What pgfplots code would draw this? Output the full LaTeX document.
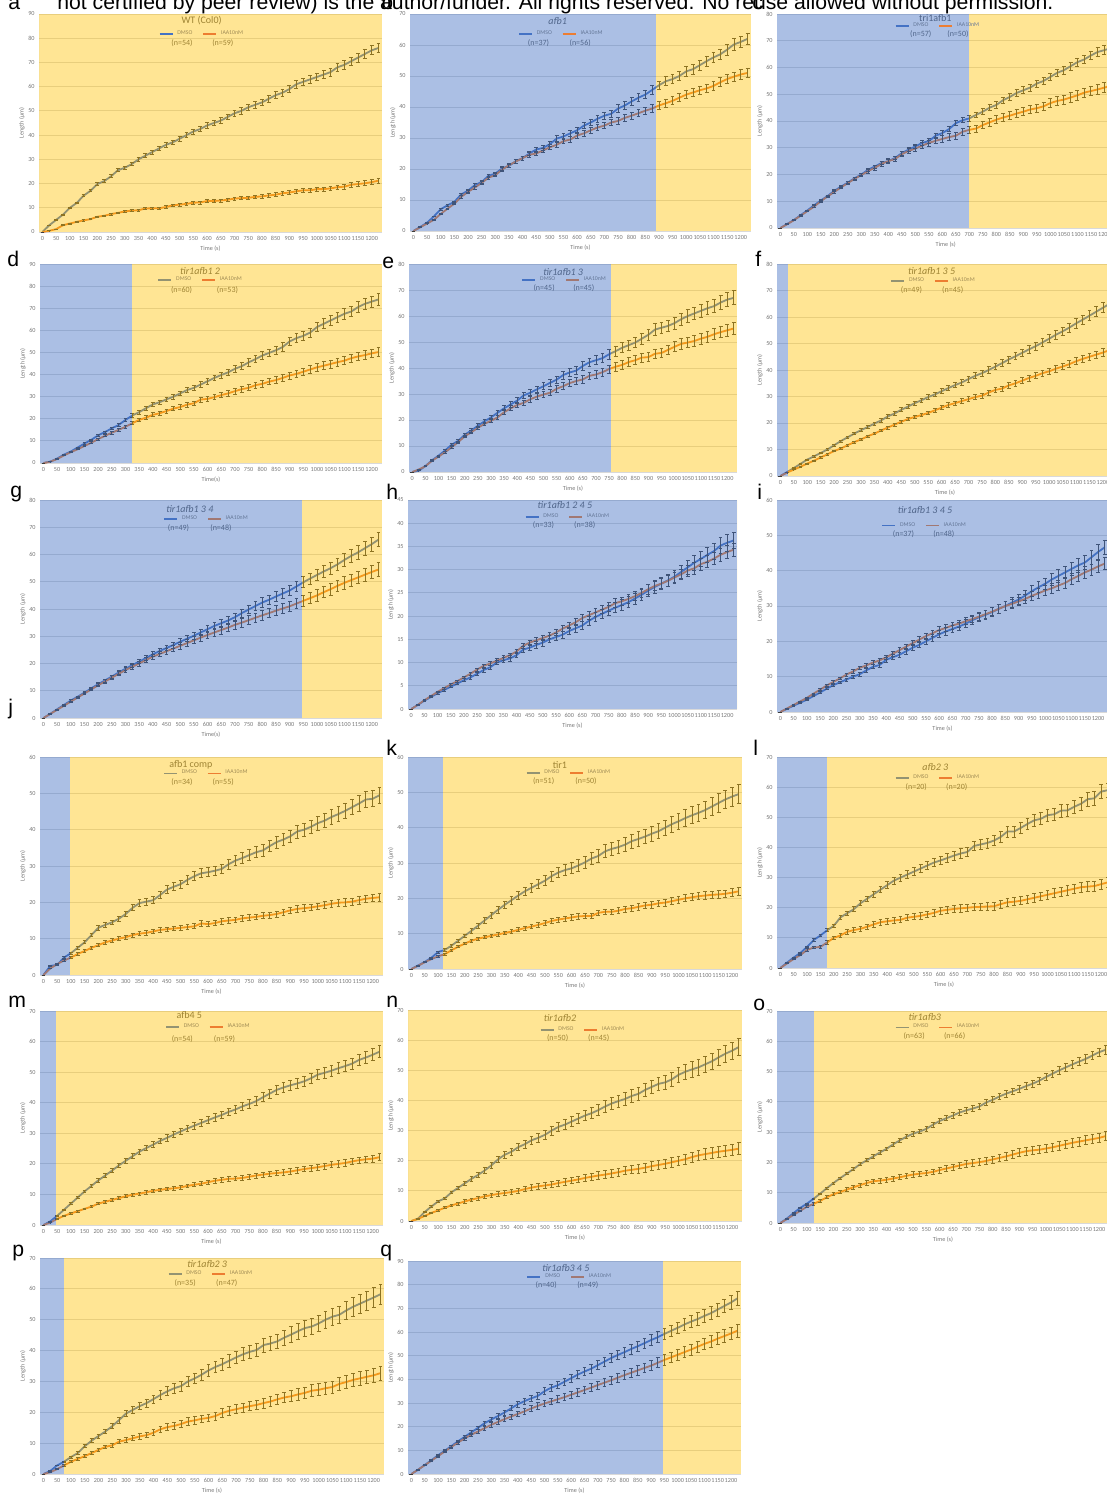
\documentclass[border=0pt]{standalone}
\usepackage{fontspec}
\setmainfont{Carlito}
\newfontfamily\arialf{Liberation Sans}
\usepackage{pgfplots}
\usepackage{pgfplotstable}
\pgfplotsset{compat=1.18}
\definecolor{cD}{RGB}{68,114,196}
\definecolor{cI}{RGB}{237,125,49}
\definecolor{cE}{RGB}{60,60,60}
\definecolor{ovB}{RGB}{68,114,196}
\definecolor{ovY}{RGB}{255,192,0}
\definecolor{gridc}{RGB}{217,217,217}
\definecolor{tickc}{RGB}{120,120,120}
\definecolor{txtc}{RGB}{89,89,89}
\definecolor{lgGray}{RGB}{147,147,114}
\definecolor{lgBrown}{RGB}{161,120,115}
\definecolor{ltY}{RGB}{160,140,85}
\definecolor{ltB}{RGB}{100,118,150}
\tikzset{ttl/.style={font=\fontsize{5}{6}\selectfont, text=txtc, inner sep=0pt},
 nl/.style={font=\fontsize{4}{5}\selectfont, text=txtc, inner sep=0pt},
 lett/.style={anchor=base west, font=\arialf\fontsize{10.6}{12}\selectfont, inner sep=0pt}}
\pgfplotsset{
 error bars/draw error bar/.code 2 args={\draw #1 -- #2 ++(-0.95pt,0pt) -- ++(1.9pt,0pt);},
 dmL/.style={color=cD, line width=0.9pt, line join=round, forget plot, mark=none},
 iaL/.style={color=cI, line width=0.9pt, line join=round, forget plot, mark=none},
 ebL/.style={color=cE, line width=0.4pt, forget plot, draw=none, mark=none, error bars/y dir=both},
 panel/.style={
  scale only axis, anchor=south west, clip=true,
  xmin=-12.5, xmax=1237.5, ymin=0,
  xtick={0,50,...,1200}, ytick distance=10,
  axis line style={draw=none}, major tick length=0pt,
  ymajorgrids, grid style={color=gridc, line width=0.5pt},
  scaled ticks=false,
  /pgf/number format/1000 sep={},
  /pgf/number format/assume math mode=true,
  tick label style={font=\fontsize{3.1}{3.5}\selectfont, text=tickc},
  xticklabel style={inner sep=0.5pt, yshift=-1.5pt},
  yticklabel style={inner sep=0.5pt, xshift=-1.5pt},
  every axis x label/.style={at={([yshift=-8.5pt]axis description cs:0.5,0)}, anchor=center, font=\fontsize{3.1}{3.5}\selectfont, text=tickc},
  every axis y label/.style={at={([xshift=-8.5pt]axis description cs:0,0.5)}, rotate=90, anchor=center, font=\fontsize{3.1}{3.5}\selectfont, text=tickc},
  xlabel={Time (s)}, ylabel={Length (µm)},
  legend columns=2,
  legend style={draw=none, fill=none, anchor=center, font=\fontsize{2.9}{3}\selectfont, inner sep=0pt,
     /tikz/every even column/.append style={column sep=3pt}},
  legend image code/.code={\draw[##1, line width=0.8pt] (0pt,0pt) -- (6.5pt,0pt);},
 }
}
\newcommand\leg[2]{\addlegendimage{#1}\addlegendentry{DMSO}\addlegendimage{#2}\addlegendentry{IAA10nM}}
\newcommand\plots[3]{\addplot[dmL] table[x=t,y=d]{#1};
 \addplot[iaL] table[x=t,y=i]{#1};
 \addplot[ebL, error bars/y fixed relative=#2] table[x=t,y=d]{#1};
 \addplot[ebL, error bars/y fixed relative=#3] table[x=t,y=i]{#1};}
\newcommand\annot[8]{\node[ttl] at (rel axis cs:#2,#3) {#1};
 \node[nl] at (rel axis cs:#4,#6) {(n=#7)};
 \node[nl] at (rel axis cs:#5,#6) {(n=#8)};}
\newcommand\regions[1]{\fill[ovB, opacity=0.45] (rel axis cs:0,0) rectangle ({axis cs:#1,0}|-{rel axis cs:0,1});
 \fill[ovY, opacity=0.42] ({axis cs:#1,0}|-{rel axis cs:0,0}) rectangle (rel axis cs:1,1);}

\pgfplotstableread{
t d i
0 0 0
25 2.8 0.5
50 5 1.2
75 7.2 2.8
100 10 3.5
125 12 4.2
150 15 4.8
175 17 5.3
200 19.8 6.3
225 21 6.7
250 23 7.4
275 25.5 7.9
300 26.5 8.5
325 28 8.8
350 30 9
375 31.5 9.7
400 33 9.8
425 34.5 9.8
450 36 10.3
475 37 11
500 38.5 11.3
525 40 11.6
550 41.5 12.1
575 42.5 12.2
600 44 12.8
625 45 12.8
650 46 13
675 47.5 13.3
700 49 13.8
725 50 14
750 51.5 14.1
775 52.5 14.5
800 53.5 14.7
825 55 15.1
850 56.5 15.4
875 57.5 16
900 59 16.3
925 61 16.8
950 62 17.2
975 63 17.2
1000 64 17.7
1025 65 17.7
1050 66 18
1075 68 18.5
1100 69 18.7
1125 70.5 19.5
1150 72 19.8
1175 73.5 20.1
1200 75 20.6
1225 76 21.2
}\TabA
\pgfplotstableread{
t d i
0 0 0
25 1.3 1.2
50 2.7 2.4
75 4.7 3.6
100 7 5.5
125 8.3 7.2
150 9.4 8.8
175 11.8 11
200 13 12.6
225 14.8 14
250 15.8 15.5
275 17.8 17.2
300 18.5 18
325 20.2 19.8
350 21 21.2
375 22.5 22.4
400 23.5 23.5
425 25 24.6
450 26.3 25
475 26.8 26
500 28 27
525 29.8 27.8
550 30.5 29
575 31.5 29.5
600 32.5 30.8
625 34 31.5
650 35 32.5
675 36.2 33.4
700 37.2 34
725 37.8 35
750 39.5 35.5
775 40.5 36.5
800 41.8 37.2
825 43 38
850 44 38.8
875 45.5 39.5
900 47 40.5
925 48.3 41.2
950 49 42
975 50 43
1000 51.5 44
1025 52.2 44.7
1050 53.5 45.4
1075 54.8 46
1100 56 46.8
1125 57 48
1150 58.5 49
1175 60.2 49.8
1200 61 50.5
1225 62 51
}\TabB
\pgfplotstableread{
t d i
0 0 0
25 1.5 1.4
50 3 2.9
75 4.8 4.6
100 6.6 6.3
125 8.5 8
150 10.3 10
175 12 11.8
200 13.9 13.5
225 15.5 15.2
250 17 16.8
275 18.6 18.4
300 20 19.8
325 21.8 21.3
350 23 22.5
375 24.3 24
400 25 25
425 26.2 25.8
450 28 27.6
475 29.3 28.8
500 30.5 29.7
525 31.8 30.8
550 32.5 31.8
575 34.5 32.6
600 35.5 33.3
625 37 34
650 39.2 34.5
675 40.3 36
700 41 36.7
725 42.3 37.2
750 43.5 38.5
775 45 39.5
800 46 40.5
825 47.8 41.3
850 49 42
875 50.5 42.8
900 51.5 43.5
925 52.5 44.3
950 54 44.8
975 55 45.5
1000 56.5 46.7
1025 58 47.5
1050 59 48
1075 60.5 48.8
1100 62 49.6
1125 63 50.6
1150 64.5 51.2
1175 65.8 51.8
1200 66.5 52.5
1225 67.3 53.2
}\TabC
\pgfplotstableread{
t d i
0 0 0
25 0.6 0.6
50 2 1.8
75 3.8 3.4
100 5.2 4.9
125 7 6.2
150 8.8 7.7
175 10.5 9.2
200 12.5 10.8
225 14 12.3
250 15.7 13.7
275 17.2 15
300 19.5 16.4
325 21.5 18
350 23 19.5
375 24.8 20.5
400 26.5 21.8
425 27.5 22.5
450 28.8 23.5
475 30 24.6
500 31.5 25.3
525 33 26.4
550 34 27
575 35.5 28.7
600 37 29
625 38.5 29.8
650 39.8 30.7
675 41 31.5
700 42.6 32.5
725 43.8 33.4
750 45.5 34
775 47 35.2
800 48.6 35.8
825 49.8 36.8
850 51 37.5
875 52.5 38.5
900 55 39.6
925 56.5 40.3
950 57.5 41.3
975 59 42.3
1000 61.5 43.3
1025 63 44
1050 64.5 44.8
1075 66 45.6
1100 67.5 46.3
1125 68.5 47.4
1150 70.5 48.2
1175 72 48.8
1200 73 49.6
1225 74 50.2
}\TabD
\pgfplotstableread{
t d i
0 0 0
25 0.5 1
50 2.3 2.2
75 4.5 4.3
100 6.3 5.9
125 8.3 7.6
150 10.5 9.5
175 12 11.5
200 14.3 13.7
225 16 15.3
250 17.8 17
275 19.5 18.5
300 21 19.7
325 22.8 21
350 24.5 23
375 26 24.5
400 27.5 25.8
425 29.5 26.6
450 30.5 28
475 31.8 29
500 33 29.8
525 34.3 30.5
550 35.5 32
575 37.3 33
600 38.3 34.2
625 39 35
650 40.8 35.6
675 42.2 37
700 43 37.5
725 43.8 38.4
750 45.3 39.6
775 46.5 40.5
800 47.8 41.2
825 48.8 42.3
850 49.8 43
875 51.3 44
900 52.8 44.2
925 54.8 45.5
950 55.5 45.8
975 56.2 47
1000 57.3 48.2
1025 58.8 49.3
1050 60 49.8
1075 61 50.4
1100 62 51.3
1125 63 52
1150 63.8 53
1175 65.2 53.8
1200 66.3 54.5
1225 67 55.2
}\TabE
\pgfplotstableread{
t d i
0 0 0
25 1.5 1.3
50 3 2.4
75 4.6 3.5
100 6.2 4.7
125 7.4 5.8
150 8.7 7
175 10 8.2
200 11.6 9.4
225 13.2 10.4
250 14.6 11.6
275 16 12.8
300 17.3 13.8
325 18.5 15
350 19.8 16
375 21 17.2
400 22.5 18.3
425 23.6 19.4
450 25 20.5
475 26.2 21.5
500 27.5 22.3
525 28.6 23
550 29.8 23.8
575 30.8 24.8
600 32 25.8
625 33.2 26.8
650 34.3 27.5
675 35.3 28.3
700 36.6 29
725 37.8 29.8
750 38.8 30.3
775 40 31.5
800 41.3 32.5
825 42.6 33
850 44 34.2
875 45.2 35
900 46.5 36
925 47.8 37
950 49 37.8
975 50.4 38.8
1000 51.8 39.5
1025 53.3 40.5
1050 54.6 41.3
1075 56 42.2
1100 57.6 43.3
1125 59 44.2
1150 60.5 45
1175 62 45.8
1200 63.5 46.6
1225 65 47.5
}\TabF
\pgfplotstableread{
t d i
0 0 0
25 1.5 1.5
50 3.2 3
75 4.8 4.5
100 6.4 6
125 7.8 7.5
150 9.3 9
175 10.9 10.5
200 12.4 12
225 13.8 13.4
250 15.2 14.8
275 16.7 16.2
300 18.1 17.6
325 19.4 18.8
350 20.7 20
375 22 21.3
400 23.4 22.5
425 24.6 23.5
450 25.7 24.5
475 26.8 25.5
500 28 26.5
525 29.1 27.5
550 30.2 28.5
575 31.4 29.5
600 32.6 30.5
625 33.8 31.4
650 34.8 32.3
675 35.8 33.2
700 37 34.2
725 38.5 35
750 39.8 35.9
775 41.1 36.8
800 42.4 37.7
825 43.4 38.5
850 44.6 39.4
875 45.7 40.2
900 46.8 41
925 48.3 42
950 49.8 43
975 51.2 44
1000 52.5 45
1025 53.8 46.2
1050 55 47.3
1075 56.4 48.5
1100 58 49.6
1125 59.5 50.6
1150 60.8 51.6
1175 62.3 52.6
1200 63.8 53.6
1225 65.5 54.5
}\TabG
\pgfplotstableread{
t d i
0 0 0
25 0.9 0.9
50 1.8 1.9
75 2.6 2.8
100 3.4 3.7
125 4.1 4.5
150 4.8 5.3
175 5.5 6
200 6.2 6.8
225 6.8 7.6
250 7.6 8.5
275 8.4 9.3
300 9 9.8
325 10 10.4
350 10.5 11
375 10.9 11.6
400 11.6 12.4
425 12.8 13.6
450 13.2 14.3
475 13.8 14.8
500 14.3 15.3
525 15 15.8
550 15.5 16.5
575 16 17.3
600 16.8 18
625 17.4 18.7
650 18 19.6
675 19 20.2
700 19.8 20.8
725 20.5 21.4
750 21.2 22
775 21.8 22.8
800 22.4 23.2
825 23 23.7
850 23.8 24.3
875 24.6 25
900 25.5 25.8
925 26.3 26.5
950 27 27
975 27.7 27.6
1000 28.5 28.3
1025 29.5 29
1050 30.5 29.8
1075 31.5 30.3
1100 32.3 31.2
1125 33.2 31.7
1150 34 32.4
1175 35.2 33.2
1200 35.8 33.8
1225 36.3 34.3
}\TabH
\pgfplotstableread{
t d i
0 0 0
25 0.9 1
50 1.8 2
75 2.6 3
100 3.5 4
125 4.5 5.2
150 5.5 6.3
175 6.6 7.5
200 7.6 8.5
225 8.4 9.5
250 9.2 10.6
275 10 11.5
300 10.7 12.5
325 11.8 13.2
350 12.8 14
375 13.3 14.6
400 14.8 15.5
425 15.5 16.5
450 16.2 17.5
475 17.2 18.5
500 18.2 19.5
525 19 20.5
550 20 21.5
575 21 22.3
600 22 23.2
625 22.8 23.8
650 23.5 24.5
675 24.2 25
700 25 25.7
725 26 26.3
750 26.8 27
775 27.5 27.7
800 28.3 28.4
825 29.2 29.2
850 30 30
875 31 30.6
900 31.8 31.3
925 33 32
950 34.2 32.9
975 35.3 33.6
1000 36.3 34.4
1025 37.5 35
1050 38.5 35.8
1075 39.5 36.5
1100 40.5 37.6
1125 41.5 38.5
1150 42.3 39.5
1175 43.8 40.3
1200 45.3 41.2
1225 46.6 42
}\TabI
\pgfplotstableread{
t d i
0 0 0
25 2.5 1.8
50 2.8 3
75 4.8 4
100 6 4.8
125 7.5 5.8
150 9 6.6
175 11 7.5
200 13 8.2
225 13.8 9
250 14.5 9.5
275 15.5 10
300 16.8 10.4
325 18.5 11
350 19.8 11.4
375 20.2 11.6
400 20.6 12
425 22 12.4
450 23.5 12.6
475 24.3 12.8
500 25 13
525 26.2 13.2
550 27.2 13.4
575 28 14.2
600 28.3 14
625 28.7 14.3
650 29.2 14.8
675 30.5 15
700 31.5 15.2
725 32.2 15.6
750 33 15.8
775 33.8 16
800 34.3 16.3
825 35.5 16.5
850 36.6 16.8
875 37.3 17.3
900 38.2 17.8
925 39.5 18.2
950 40 18.4
975 40.8 18.6
1000 41.8 18.9
1025 42.5 19.2
1050 43.5 19.6
1075 44.3 19.9
1100 45.2 20
1125 46.2 20.2
1150 47.2 20.6
1175 48.3 21
1200 48.5 21.2
1225 49.5 21.4
}\TabJ
\pgfplotstableread{
t d i
0 0 0
25 1 0.9
50 2 1.9
75 3.2 2.8
100 4.8 3.6
125 5.4 4.2
150 6.6 5.3
175 8 6.3
200 9.4 7.2
225 10.8 8
250 12.3 8.6
275 13.8 9
300 15.3 9.4
325 16.8 9.8
350 18.2 10.2
375 19.5 10.6
400 20.8 11.1
425 22 11.6
450 23 12
475 24 12.5
500 25 13
525 26.3 13.6
550 27.3 14
575 28 14.3
600 28.5 14.6
625 29.3 14.9
650 30.2 15
675 31.3 15
700 32 15.9
725 33.3 16.2
750 34 16.2
775 34.5 16.5
800 35.2 17
825 36.2 17.2
850 36.8 17.6
875 37.5 18
900 38.3 18.2
925 39 18.6
950 40 18.8
975 41 19.2
1000 41.8 19.6
1025 42.7 20
1050 43.5 20.3
1075 44.2 20.6
1100 45 20.8
1125 46 21
1150 47 21.1
1175 48 21.3
1200 48.8 21.6
1225 49.5 22
}\TabK
\pgfplotstableread{
t d i
0 0 0
25 1.8 1.5
50 3.5 3
75 5 4.3
100 7 6
125 9.3 6.8
150 10.8 7
175 12.5 8.5
200 14 10
225 16.8 10.8
250 18.2 12
275 19.5 12.6
300 21.5 13
325 23 13.7
350 24.5 14.5
375 26 15.2
400 27.5 15.5
425 29 15.8
450 30 16
475 31 16.7
500 32 17
525 33 17.3
550 34 17.8
575 35 18.3
600 35.7 19
625 36.5 19.3
650 37.3 19.6
675 38 19.8
700 38.5 20
725 40.5 20.2
750 41 20.3
775 41.5 20.4
800 42.3 20.5
825 43.5 21.2
850 45.3 21.8
875 45.3 22
900 46.5 22.3
925 47.8 22.8
950 49 23.3
975 49.5 23.8
1000 50.7 24.3
1025 51 24.8
1050 52.2 25.3
1075 52.3 25.8
1100 53.5 26.3
1125 54.5 26.8
1150 56 27
1175 56.3 27.2
1200 58.5 27.8
1225 59 28.4
}\TabL
\pgfplotstableread{
t d i
0 0 0
25 1.2 0.8
50 3 2
75 5 3
100 7 3.8
125 9 4.5
150 11 5.3
175 12.8 6
200 14.6 7
225 16.2 7.6
250 17.8 8.2
275 19.5 8.8
300 21 9.4
325 22.5 9.9
350 24 10.3
375 25.2 10.7
400 26.3 11.2
425 27.5 11.5
450 28.5 11.8
475 29.6 12
500 30.6 12.3
525 31.6 12.8
550 32.5 13.2
575 33.4 13.5
600 34.3 14
625 35.2 14.5
650 36 14.8
675 37 15.1
700 37.8 15.2
725 38.8 15.4
750 39.6 15.8
775 40.5 16.2
800 41.8 16.5
825 43 16.8
850 44.2 17
875 45 17.2
900 45.7 17.5
925 46.3 17.9
950 47 18.3
975 48 18.6
1000 49.2 18.9
1025 49.8 19.3
1050 50.5 19.7
1075 51.3 20
1100 52 20.3
1125 52.8 20.8
1150 54 21.2
1175 54.8 21.5
1200 55.7 21.7
1225 56.7 22.2
}\TabM
\pgfplotstableread{
t d i
0 0 0
25 0.8 0.7
50 3 1.7
75 4.8 2.7
100 6.5 3.5
125 7.5 4.4
150 9.5 5.2
175 11 5.8
200 12.5 6.5
225 14 7.1
250 15.3 7.6
275 16.8 8.2
300 18.5 8.6
325 20.5 9
350 22 9.3
375 23 9.6
400 24.5 10
425 25.5 10.6
450 26.8 11.1
475 27.6 11.5
500 28.6 11.8
525 30 12.1
550 31.2 12.6
575 32 13
600 33 13.4
625 34 13.8
650 35 14.3
675 35.8 14.7
700 36.8 15.1
725 38 15.4
750 39 15.8
775 39.8 16.2
800 40.5 16.7
825 41.5 17
850 42.2 17.3
875 43.5 17.7
900 44.5 18.2
925 45.5 18.6
950 46 19
975 47 19.5
1000 48.5 20
1025 49.5 20.5
1050 50.3 21.2
1075 51 21.8
1100 52 22.2
1125 53 22.6
1150 54.3 23
1175 55.5 23.3
1200 56.5 23.6
1225 57.7 24
}\TabN
\pgfplotstableread{
t d i
0 0 0
25 1.5 1.3
50 3.3 2.7
75 5 4
100 6.4 5.4
125 8 6.3
150 9.7 7.3
175 11.5 8.5
200 13.2 9.5
225 14.8 10.2
250 16.3 11
275 17.8 11.8
300 19.4 12.5
325 20.7 13.2
350 22 13.8
375 23.3 14
400 24.5 14.3
425 26 14.7
450 27.3 15.1
475 28.5 15.6
500 29.5 16
525 30.2 16.3
550 31.1 16.5
575 32.5 16.9
600 33.7 17.5
625 34.6 18
650 35.5 18.5
675 36.5 19
700 37.2 19.5
725 37.8 19.8
750 38.5 20.1
775 39.8 20.5
800 40.7 21
825 41.8 21.5
850 42.7 22
875 43.5 22.6
900 44.3 23.2
925 45.2 23.7
950 46 24
975 47 24.2
1000 48.2 24.6
1025 49.3 25
1050 50.4 25.5
1075 51.4 26
1100 52.4 26.5
1125 53.3 26.9
1150 54.2 27.3
1175 55.3 27.7
1200 56.4 28.1
1225 57.2 28.7
}\TabO
\pgfplotstableread{
t d i
0 0 0
25 1 0.6
50 2.8 1.6
75 4 2.8
100 5.5 4
125 6.8 4.9
150 9 5.8
175 10.8 6.8
200 12.3 7.8
225 13.8 8.8
250 15.5 9.3
275 17.5 10.5
300 19.6 11
325 20.8 11.6
350 22 12.2
375 23 12.6
400 24.3 13.4
425 25.6 14.5
450 26.8 15.2
475 27.8 15.6
500 28.5 16.2
525 30 17
550 31 17.4
575 32.2 17.9
600 33.6 18.2
625 34.7 18.8
650 35.6 19.8
675 36.7 20.5
700 37.8 21
725 38.8 21.5
750 39.6 22
775 40.2 22.4
800 41.8 23
825 42.3 23.5
850 43 24.2
875 44.2 24.8
900 45.2 25.2
925 46.3 25.8
950 47.3 26.3
975 47.8 27
1000 48.8 27.3
1025 50 27.8
1050 51 28.2
1075 51.6 29.2
1100 53 29.8
1125 54.2 30.5
1150 55.2 31
1175 56.2 31.5
1200 57.2 32
1225 58.3 32.7
}\TabP
\pgfplotstableread{
t d i
0 0 0
25 1.8 1.8
50 3.8 3.7
75 5.8 5.6
100 7.9 7.5
125 9.8 9.5
150 11.8 11.4
175 13.8 13.3
200 15.7 15
225 17.6 16.6
250 19.5 18
275 21.5 19.4
300 23 20.8
325 24.5 22
350 26 23.2
375 27.8 24.3
400 29.5 25.4
425 30.8 26.5
450 32 27.7
475 33 28.8
500 35 29.8
525 36.5 30.7
550 37.5 31.6
575 39 32.5
600 40.5 33.5
625 42 34.5
650 43.3 35.5
675 44.5 36.5
700 46 37.6
725 47.5 38.6
750 49 39.6
775 50.3 40.7
800 51.5 41.8
825 52.8 42.8
850 54 43.8
875 55.3 44.8
900 56.6 45.8
925 57.8 47
950 59.2 48.2
975 60.5 49.3
1000 61.8 50.4
1025 63.2 51.5
1050 64.4 52.6
1075 65.5 53.8
1100 66.8 55
1125 68 56
1150 69.5 57.2
1175 71 58.3
1200 72.5 59.4
1225 74.3 60.6
}\TabQ

\begin{document}
\begin{tikzpicture}
% ---- row 1
\begin{axis}[panel, at={(19.5pt,-116pt)}, width=171.5pt, height=109pt, ymax=90, legend style={at={(0.478,0.907)}, text=ltY}]
\leg{color=cD}{color=cI}
\plots{\TabA}{0.025}{0.05}
\annot{WT (Col0)}{0.474}{0.969}{0.417}{0.536}{0.867}{54}{59}
\regions{-12.5}
\end{axis}
\begin{axis}[panel, at={(205pt,-115.5pt)}, width=170.5pt, height=108.5pt, ymax=70, legend style={at={(0.447,0.907)}, text=ltB}]
\leg{color=cD}{color=cI}
\plots{\TabB}{0.03}{0.03}
\annot{\itshape afb1}{0.433}{0.969}{0.377}{0.499}{0.867}{37}{56}
\regions{890}
\end{axis}
\begin{axis}[panel, at={(388.5pt,-114pt)}, width=168.75pt, height=107pt, ymax=80, legend style={at={(0.48,0.944)}, text=ltB}]
\leg{color=cD}{color=cI}
\plots{\TabC}{0.025}{0.035}
\annot{tri1afb1}{0.469}{0.98}{0.426}{0.536}{0.906}{57}{50}
\regions{700}
\end{axis}
% ---- row 2
\begin{axis}[panel, at={(20pt,-231.5pt)}, width=171pt, height=99.5pt, ymax=90, xlabel={Time(s)}, legend style={at={(0.473,0.92)}, text=ltY}]
\leg{color=lgGray}{color=cI}
\plots{\TabD}{0.035}{0.04}
\annot{\itshape tir1afb1 2}{0.468}{0.965}{0.414}{0.548}{0.869}{60}{53}
\regions{322}
\end{axis}
\begin{axis}[panel, at={(204.5pt,-236pt)}, width=164pt, height=104pt, ymax=80, legend style={at={(0.478,0.923)}, text=ltB}]
\leg{color=cD}{color=lgBrown}
\plots{\TabE}{0.04}{0.04}
\annot{\itshape tir1afb1 3}{0.47}{0.963}{0.412}{0.533}{0.885}{45}{45}
\regions{757}
\end{axis}
\begin{axis}[panel, at={(388.5pt,-238pt)}, width=168pt, height=106pt, ymax=80, legend style={at={(0.469,0.92)}, text=ltY}]
\leg{color=lgGray}{color=cI}
\plots{\TabF}{0.03}{0.03}
\annot{\itshape tir1afb1 3 5}{0.46}{0.967}{0.40}{0.523}{0.877}{49}{45}
\regions{28}
\end{axis}
% ---- row 3
\begin{axis}[panel, at={(20pt,-359pt)}, width=171pt, height=109pt, ymax=80, xlabel={Time(s)}, legend style={at={(0.49,0.913)}, text=ltB}]
\leg{color=cD}{color=lgBrown}
\plots{\TabG}{0.04}{0.045}
\annot{\itshape tir1afb1 3 4}{0.438}{0.957}{0.405}{0.529}{0.872}{49}{48}
\regions{945}
\end{axis}
\begin{axis}[panel, at={(204pt,-354.5pt)}, width=164.5pt, height=104.5pt, ymax=45, ytick distance=5, legend style={at={(0.489,0.92)}, text=ltB}]
\leg{color=cD}{color=lgBrown}
\plots{\TabH}{0.05}{0.04}
\annot{\itshape tir1afb1 2 4 5}{0.477}{0.976}{0.412}{0.537}{0.88}{33}{38}
\regions{1237.5}
\end{axis}
\begin{axis}[panel, at={(388.5pt,-356pt)}, width=165.5pt, height=106pt, ymax=60, legend style={at={(0.449,0.879)}, text=ltB}]
\leg{color=cD}{color=lgBrown}
\plots{\TabI}{0.045}{0.04}
\annot{\itshape tir1afb1 3 4 5}{0.447}{0.953}{0.382}{0.504}{0.838}{37}{48}
\regions{1237.5}
\end{axis}
% ---- row 4
\begin{axis}[panel, at={(20pt,-487.5pt)}, width=171.5pt, height=109pt, ymax=60, legend style={at={(0.488,0.925)}, text=ltY}]
\leg{color=lgGray}{color=cI}
\plots{\TabJ}{0.045}{0.05}
\annot{afb1 comp}{0.44}{0.966}{0.414}{0.534}{0.885}{34}{55}
\regions{98}
\end{axis}
\begin{axis}[panel, at={(204pt,-484.5pt)}, width=167pt, height=106pt, ymax=60, legend style={at={(0.485,0.925)}, text=ltY}]
\leg{color=lgGray}{color=cI}
\plots{\TabK}{0.055}{0.05}
\annot{tir1}{0.455}{0.96}{0.406}{0.533}{0.884}{51}{50}
\regions{120}
\end{axis}
\begin{axis}[panel, at={(388.5pt,-484pt)}, width=167pt, height=105.5pt, ymax=70, legend style={at={(0.485,0.9)}, text=ltY}]
\leg{color=lgGray}{color=cI}
\plots{\TabL}{0.04}{0.06}
\annot{\itshape afb2 3}{0.474}{0.954}{0.417}{0.538}{0.859}{20}{20}
\regions{175}
\end{axis}
% ---- row 5
\begin{axis}[panel, at={(20pt,-612.5pt)}, width=171.5pt, height=107pt, ymax=70, legend style={at={(0.494,0.925)}, text=ltY}]
\leg{color=lgGray}{color=cI}
\plots{\TabM}{0.035}{0.05}
\annot{afb4 5}{0.435}{0.98}{0.415}{0.538}{0.867}{54}{59}
\regions{45}
\end{axis}
\begin{axis}[panel, at={(204pt,-610.5pt)}, width=167pt, height=105.5pt, ymax=70, legend style={at={(0.527,0.905)}, text=ltY}]
\leg{color=lgGray}{color=cI}
\plots{\TabN}{0.05}{0.08}
\annot{\itshape tir1afb2}{0.455}{0.963}{0.448}{0.571}{0.867}{50}{45}
\regions{-12.5}
\end{axis}
\begin{axis}[panel, at={(388.5pt,-611.5pt)}, width=166pt, height=106pt, ymax=70, legend style={at={(0.488,0.922)}, text=ltY}]
\leg{color=lgGray}{color=cI}
\plots{\TabO}{0.025}{0.055}
\annot{\itshape tir1afb3}{0.445}{0.97}{0.413}{0.535}{0.88}{63}{66}
\regions{125}
\end{axis}
% ---- row 6
\begin{axis}[panel, at={(20pt,-737pt)}, width=172pt, height=108pt, ymax=70, legend style={at={(0.5,0.926)}, text=ltY}]
\leg{color=lgGray}{color=cI}
\plots{\TabP}{0.055}{0.07}
\annot{\itshape tir1afb2 3}{0.486}{0.972}{0.422}{0.543}{0.884}{35}{47}
\regions{75}
\end{axis}
\begin{axis}[panel, at={(204pt,-737pt)}, width=166.5pt, height=106.5pt, ymax=90, legend style={at={(0.489,0.926)}, text=ltB}]
\leg{color=cD}{color=lgBrown}
\plots{\TabQ}{0.04}{0.045}
\annot{\itshape tir1afb3 4 5}{0.474}{0.966}{0.415}{0.54}{0.887}{40}{49}
\regions{945}
\end{axis}
% ---- texts
\node[lett] at (28.5pt,-5pt) {not certified by peer review) is the author/funder. All rights reserved. No reuse allowed without permission.};
\node[lett] at (4pt,-5pt) {a};
\node[lett] at (190.5pt,-5pt) {b};
\node[lett] at (376pt,-5pt) {c};
\node[lett] at (3.5pt,-133pt) {d};
\node[lett] at (191pt,-134pt) {e};
\node[lett] at (377.5pt,-133pt) {f};
\node[lett] at (5pt,-248.5pt) {g};
\node[lett] at (193pt,-249.5pt) {h};
\node[lett] at (378.5pt,-249.5pt) {i};
\node[lett] at (4pt,-357pt) {j};
\node[lett] at (193pt,-377.5pt) {k};
\node[lett] at (376.5pt,-377.5pt) {l};
\node[lett] at (4pt,-503.5pt) {m};
\node[lett] at (193pt,-503.5pt) {n};
\node[lett] at (376.5pt,-505pt) {o};
\node[lett] at (6pt,-628pt) {p};
\node[lett] at (190pt,-628pt) {q};
\pgfresetboundingbox
\useasboundingbox (0pt,0pt) rectangle (553.5pt,-746.5pt);
\end{tikzpicture}
\end{document}
